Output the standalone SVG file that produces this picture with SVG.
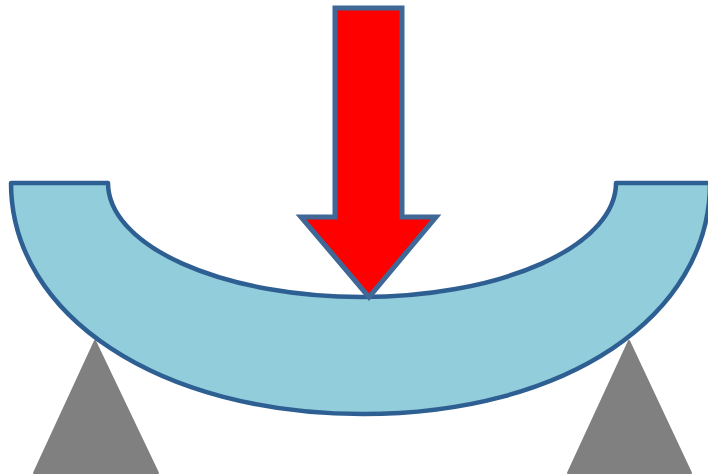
<svg xmlns="http://www.w3.org/2000/svg" width="708" height="475" viewBox="0 0 708 475">
  <style>
    .support { fill: #808080; stroke: #808080; stroke-width: 2; stroke-linejoin: round; }
    .beam { fill: #92cddc; stroke: #2f5f92; stroke-width: 4.5; stroke-linejoin: round; }
    .arrow { fill: #ff0000; stroke: #3f6797; stroke-width: 5; stroke-linejoin: miter; }
  </style>
  <defs><filter id="soft" x="-5%" y="-5%" width="110%" height="110%"><feGaussianBlur stdDeviation="0.5"/></filter></defs>
  <rect width="708" height="475" fill="#ffffff"/>
  <g filter="url(#soft)">
    <g id="support-left"><path class="support" d="M95 341 L158 473 H34 Z"/></g>
    <g id="support-right"><path class="support" d="M629 341 L691 473 H568 Z"/></g>
    <g id="beam"><path class="beam" d="M11 183 H108 A254 114 0 0 0 616 183 H710 C710 316 566 414 363 414 C160 414 11 316 11 183 Z"/></g>
    <g id="load-arrow"><path class="arrow" d="M335 8 H402 V217 H436 L369 297 L301 217 H335 Z"/></g>
  </g>
</svg>
